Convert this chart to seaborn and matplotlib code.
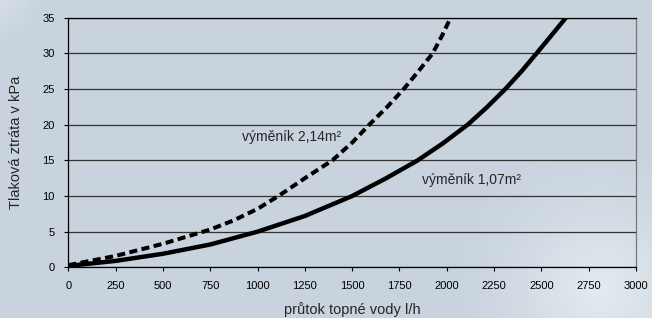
import numpy as np
import pandas as pd
import matplotlib
matplotlib.use("Agg")
import matplotlib.pyplot as plt
import seaborn as sns

# ---------- dados ----------
# výměník 1,07 m2 (linha cheia)
prutok_107 = [0, 250, 500, 750, 1000, 1250, 1500, 1680, 1846, 1980, 2110, 2210, 2309, 2395, 2474, 2555, 2629]
ztrata_107 = [0.2, 0.9, 1.9, 3.2, 5.0, 7.2, 10.0, 12.5, 15.0, 17.4, 20.0, 22.4, 25.0, 27.5, 30.0, 32.6, 35.0]

# výměník 2,14 m2 (linha tracejada)
prutok_214 = [0, 250, 500, 750, 875, 1000, 1110, 1250, 1395, 1500, 1590, 1685, 1772, 1850, 1925, 1975, 2020]
ztrata_214 = [0.3, 1.6, 3.3, 5.3, 6.6, 8.2, 10.0, 12.5, 15.0, 17.5, 20.0, 22.5, 25.0, 27.5, 30.0, 32.5, 35.0]

x_ticks = [0, 250, 500, 750, 1000, 1250, 1500, 1750, 2000, 2250, 2500, 2750, 3000]
y_ticks = [0, 5, 10, 15, 20, 25, 30, 35]

df_107 = pd.DataFrame({'prutok': prutok_107, 'ztrata': ztrata_107})
df_214 = pd.DataFrame({'prutok': prutok_214, 'ztrata': ztrata_214})

sns.set_style("white")
plt.rcParams['font.family'] = ['Liberation Sans', 'DejaVu Sans']

fig = plt.figure(figsize=(6.52, 3.18), dpi=100)

# fundo com gradiente (bolhas claras)
bg = fig.add_axes([0, 0, 1, 1])
h, w = 318, 652
yy, xx = np.mgrid[0:h, 0:w]
base = np.array([200, 211, 222]) / 255.0
img = np.ones((h, w, 3)) * base
d1 = np.sqrt((xx - 600) ** 2 + (yy - 290) ** 2)
g1 = np.clip(1 - d1 / 160, 0, 1) ** 1.4 * 0.6
d2 = np.sqrt((xx - 0) ** 2 + (yy - 0) ** 2)
g2 = np.clip(1 - d2 / 40, 0, 1) * 0.3
g = np.clip(g1 + g2, 0, 1)[..., None]
img = img * (1 - g) + g * np.array([0.97, 0.98, 0.99])
bg.imshow(img, aspect='auto', extent=[0, 1, 0, 1], origin='upper')
bg.axis('off')

ax = fig.add_axes([0.1048, 0.1594, 0.8707, 0.7846])
ax.patch.set_alpha(0)

sns.lineplot(data=df_107, x='prutok', y='ztrata', ax=ax, color='black', linewidth=3.2)
sns.lineplot(data=df_214, x='prutok', y='ztrata', ax=ax, color='black', linewidth=2.9,
             linestyle=(0, (2.0, 1.1)))

ax.set_xlim(0, 3000)
ax.set_ylim(0, 35)
ax.set_xticks(x_ticks)
ax.set_yticks(y_ticks)
ax.tick_params(axis='both', labelsize=8, direction='out', length=3, width=0.8, colors='black',
               bottom=True, left=True, pad=7)
ax.yaxis.grid(True, color='#333333', linewidth=0.9)
ax.set_axisbelow(True)
for s in ['left', 'bottom', 'top']:
    ax.spines[s].set_color('black')
    ax.spines[s].set_linewidth(0.9)
ax.spines['right'].set_color('#777777')
ax.spines['right'].set_linewidth(0.9)

ax.set_xlabel('průtok topné vody l/h', fontsize=10.5, labelpad=8)
ax.set_ylabel('Tlaková ztráta v kPa', fontsize=10.5, labelpad=14)

ax.text(920, 18.3, 'výměník 2,14m²', fontsize=10, va='center', ha='left')
ax.text(1870, 12.2, 'výměník 1,07m²', fontsize=10, va='center', ha='left')

fig.savefig('out.png', dpi=100)
